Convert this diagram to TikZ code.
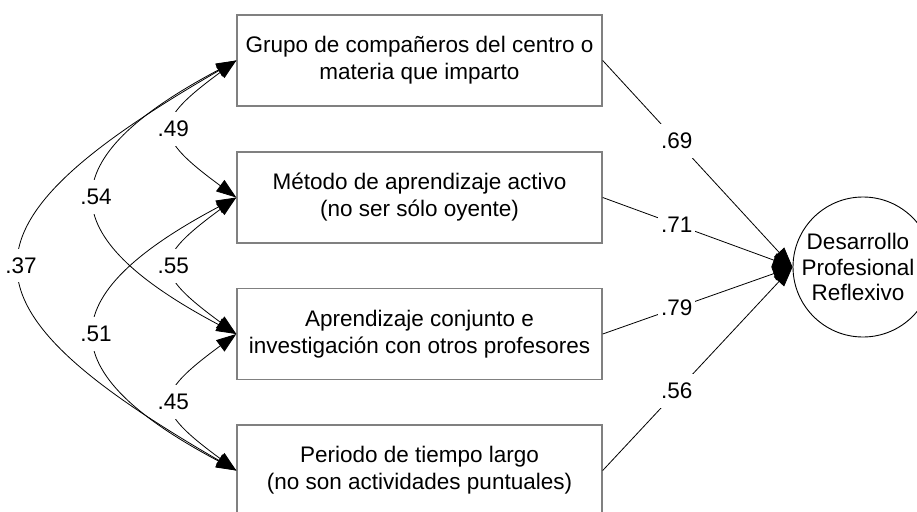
\documentclass[tikz,border=0pt]{standalone}
\usepackage{fontspec}
\setmainfont{Liberation Sans}
\usetikzlibrary{arrows.meta}
\begin{document}
\begin{tikzpicture}[x=1pt,y=-1pt,
  every node/.style={font=\fontsize{22.5}{27}\selectfont},
  box/.style={draw=black!50, line width=1.4pt, minimum width=365pt, minimum height=91pt, align=center, inner sep=0pt},
  lat/.style={draw, circle, line width=0.9pt, minimum size=140pt, inner sep=0pt},
  lattext/.style={align=center, inner sep=0pt, font=\fontsize{22.5}{25.5}\selectfont},
  cov/.style={{Triangle[length=20pt,width=14pt]}-{Triangle[length=20pt,width=14pt]}, line width=0.8pt},
  lab/.style={fill=white, inner xsep=3pt, inner ysep=9pt},
  pth/.style={line width=0.8pt, -{Triangle[length=20pt,width=14pt]}}
]
\useasboundingbox (0,0) rectangle (917,511);
\clip (0,0) rectangle (917,511);
\fill[white] (0,0) rectangle (917,511);

\node[box] (b1) at (419.5,60.5) {Grupo de compañeros del centro o\\materia que imparto};
\node[box] (b2) at (419.5,197.5) {Método de aprendizaje activo\\(no ser sólo oyente)};
\node[box] (b3) at (419.5,334) {Aprendizaje conjunto e\\investigación con otros profesores};
\node[box] (b4) at (419.5,470.5) {Periodo de tiempo largo\\(no son actividades puntuales)};
\node[lat] (c) at (863,267) {};
\node[lattext] (ct) at (858,267) {Desarrollo\\Profesional\\Reflexivo};

% covariances
\draw[cov] (b1.west) .. controls +(-84,62) and +(-84,-62) .. (b2.west) node[pos=0.5,lab] {.49};
\draw[cov] (b2.west) .. controls +(-84,62) and +(-84,-62) .. (b3.west) node[pos=0.5,lab] {.55};
\draw[cov] (b3.west) .. controls +(-84,62) and +(-84,-62) .. (b4.west) node[pos=0.5,lab] {.45};
\draw[cov] (b1.west) .. controls +(-187,99) and +(-187,-99) .. (b3.west) node[pos=0.5,lab] {.54};
\draw[cov] (b2.west) .. controls +(-187,99) and +(-187,-99) .. (b4.west) node[pos=0.5,lab] {.51};
\draw[cov] (b1.west) .. controls +(-287,166) and +(-287,-166) .. (b4.west) node[pos=0.5,lab] {.37};

% paths
\draw[pth] (b1.east) -- (c.west) node[pos=0.39,lab] {.69};
\draw[pth] (b2.east) -- (c.west) node[pos=0.39,lab] {.71};
\draw[pth] (b3.east) -- (c.west) node[pos=0.39,lab] {.79};
\draw[pth] (b4.east) -- (c.west) node[pos=0.39,lab] {.56};
\end{tikzpicture}
\end{document}
